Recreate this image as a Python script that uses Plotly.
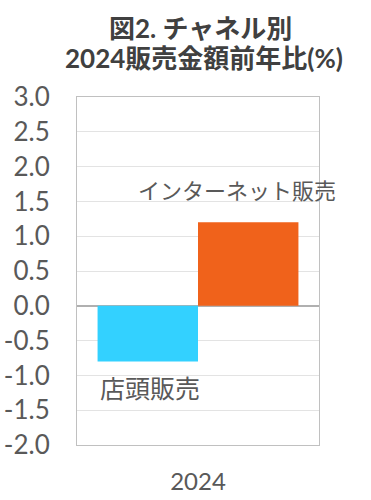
import plotly.graph_objects as go

categories = ["2024"]
series_names = ["店頭販売", "インターネット販売"]
series_values = [[-0.8], [1.2]]
series_colors = ["#33D1FF", "#F0621B"]
y_tick_vals = [-2.0, -1.5, -1.0, -0.5, 0.0, 0.5, 1.0, 1.5, 2.0, 2.5, 3.0]
y_tick_text = [f"{v:.1f}" for v in y_tick_vals]
title_lines = ["図2. チャネル別", "2024販売金額前年比(%)"]

# label placement (style): paper x, data y, font size
label_pos = [(0.30, -1.18, 25), (0.66, 1.66, 22)]
title_pos = [(0.51, 1.197), (0.525, 1.112)]

FONT = "Lato, 'Noto Sans CJK JP', sans-serif"
TXT = "#595959"

fig = go.Figure()
for name, vals, col in zip(series_names, series_values, series_colors):
    fig.add_trace(go.Bar(x=categories, y=vals, name=name, marker=dict(color=col, line=dict(width=0))))

for name, (px, py, fs) in zip(series_names, label_pos):
    fig.add_annotation(text=name, xref="paper", x=px, yref="y", y=py, showarrow=False,
                       font=dict(family=FONT, size=fs, color=TXT), xanchor="center", yanchor="middle")

for line, (px, py) in zip(title_lines, title_pos):
    fig.add_annotation(text="<b>" + line + "</b>", xref="paper", x=px, yref="paper", y=py, showarrow=False,
                       font=dict(family=FONT, size=26, color="#404040"), xanchor="center", yanchor="middle")

fig.update_layout(
    width=371, height=500,
    margin=dict(l=77, r=52, t=97, b=55, autoexpand=False),
    paper_bgcolor="white", plot_bgcolor="white",
    barmode="group", bargap=0.17, bargroupgap=0,
    showlegend=False,
    font=dict(family=FONT, color=TXT),
)
fig.update_yaxes(range=[-2.0, 3.0], tickvals=y_tick_vals, ticktext=y_tick_text, automargin=False,
                 tickfont=dict(family=FONT, size=26, color=TXT), ticklabelstandoff=21,
                 showgrid=True, gridcolor="#E3E3E3", gridwidth=1,
                 zeroline=True, zerolinecolor="#B0B0B0", zerolinewidth=2,
                 showline=True, linecolor="#C0C0C0", linewidth=1, mirror=True, ticks="")
fig.update_xaxes(tickfont=dict(family=FONT, size=24, color=TXT), showline=True, linecolor="#C0C0C0",
                 linewidth=1, mirror=True, ticks="", ticklabelstandoff=15, automargin=False)

fig.write_html("out.html", config={"displayModeBar": False},
               post_script="document.body.style.margin='0';")
